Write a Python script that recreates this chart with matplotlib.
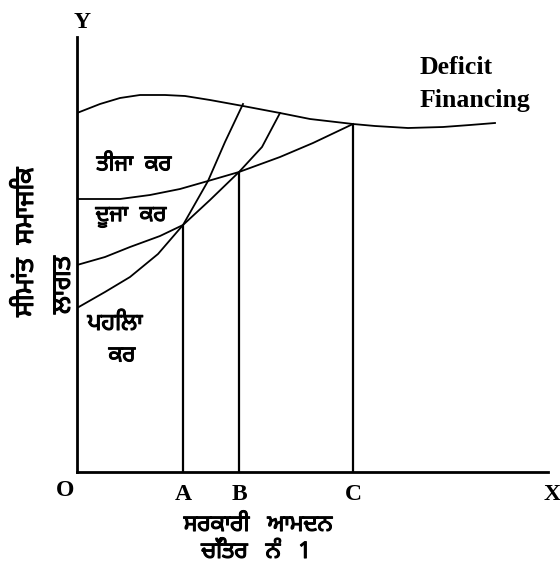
import matplotlib
matplotlib.use("Agg")
import matplotlib.pyplot as plt
import matplotlib.patheffects as pe

# curves (x = government income, y = marginal social cost)
deficit_x = [0, 23, 43, 63, 88, 108, 133, 166, 203, 233, 276, 298, 331, 366, 393, 418]
deficit_y = [359, 368, 374, 377, 377, 376, 372, 366, 359, 353, 348, 346, 344, 345, 347, 349]

third_x = [0, 43, 73, 103, 131, 162, 203, 236, 276]
third_y = [273, 273, 277, 283, 291, 300, 315, 329, 348]

second_x = [0, 28, 53, 83, 106, 133, 162, 185, 203]
second_y = [207, 215, 225, 236, 247, 272, 300, 325, 359]

first_x = [0, 28, 53, 81, 106, 131, 148, 166]
first_y = [164, 180, 195, 218, 247, 291, 330, 368]

# equilibrium points A, B, C
point_names = ["A", "B", "C"]
point_x = [106, 162, 276]
point_y = [247, 300, 348]

guru = ["Noto Sans Gurmukhi", "Lohit Gurmukhi", "FreeSans", "DejaVu Sans"]
serif = "Liberation Serif"
heavy = [pe.withStroke(linewidth=0.8, foreground="black")]

fig = plt.figure(figsize=(5.6, 5.77), dpi=100)
fig.patch.set_facecolor("white")
ax = fig.add_axes([77 / 560, 105 / 577, 471 / 560, 435 / 577])
ax.set_xlim(0, 471)
ax.set_ylim(0, 435)
for s in ["top", "right"]:
    ax.spines[s].set_visible(False)
for s in ["left", "bottom"]:
    ax.spines[s].set_linewidth(2)
ax.set_xticks([])
ax.set_yticks([])

lw = 1.3
ax.plot(deficit_x, deficit_y, color="black", lw=lw)
ax.plot(third_x, third_y, color="black", lw=lw)
ax.plot(second_x, second_y, color="black", lw=lw)
ax.plot(first_x, first_y, color="black", lw=lw)
ax.vlines(point_x, 0, point_y, color="black", lw=1.6)

lab = dict(ha="center", va="center", fontsize=17, family=serif,
           weight="bold", clip_on=False)
for name, x in zip(point_names, point_x):
    ax.text(x, -22, name, **lab)
ax.text(-12, -18, "O", **lab)
ax.text(475, -22, "X", **lab)
ax.text(5, 449, "Y", **lab)

ax.text(343, 404, "Deficit", ha="left", va="center", fontsize=18.5,
        family=serif, weight="bold")
ax.text(343, 372, "Financing", ha="left", va="center", fontsize=18.5,
        family=serif, weight="bold")

g = dict(ha="center", va="center", family=guru, weight="bold",
         clip_on=False, path_effects=heavy)
ax.text(57, 307, "ਤੀਜਾ  ਕਰ", fontsize=16, **g)
ax.text(54, 255, "ਦੂਜਾ  ਕਰ", fontsize=16, **g)
ax.text(38, 148, "ਪਹਿਲਾ", fontsize=17, **g)
ax.text(45, 116, "ਕਰ", fontsize=16, **g)

ax.text(-51, 230, "ਸੀਮਾਂਤ  ਸਮਾਜਿਕ", fontsize=19, rotation=90, **g)
ax.text(-14, 187, "ਲਾਗਤ", fontsize=19, rotation=90, **g)

ax.text(181, -53, "ਸਰਕਾਰੀ   ਆਮਦਨ", fontsize=16.5, **g)
ax.text(179, -80, "ਚਿੱਤਰ   ਨੰ   1", fontsize=16.5, **g)

fig.savefig("out.png", dpi=100, facecolor="white")
